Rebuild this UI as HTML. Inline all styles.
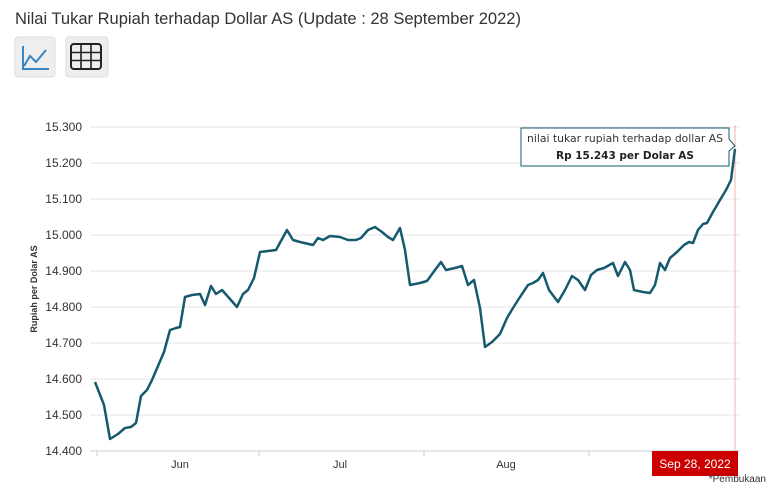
<!DOCTYPE html>
<html><head><meta charset="utf-8"><style>
body{margin:0;background:#fff;width:768px;height:494px;overflow:hidden;font-family:"Liberation Sans",sans-serif}
</style></head><body>
<svg width="768" height="494" xmlns="http://www.w3.org/2000/svg" font-family="Liberation Sans, sans-serif">
<text x="15" y="24" font-size="16.5" fill="#333" textLength="506" lengthAdjust="spacingAndGlyphs">Nilai Tukar Rupiah terhadap Dollar AS (Update : 28 September 2022)</text>
<rect x="15" y="37" width="40" height="40" rx="3" fill="#eee" stroke="#ddd"/>
<path d="M23 46 V69 H49 M24 66 L30 56 L36 62 L46 50" fill="none" stroke="#3a86c4" stroke-width="2"/>
<rect x="66" y="37" width="42" height="40" rx="3" fill="#eee" stroke="#ddd"/>
<rect x="71" y="44" width="30" height="25" rx="3" fill="none" stroke="#222" stroke-width="2"/>
<path d="M71 52.5H101M71 60.5H101M81 44V69M91 44V69" stroke="#222" stroke-width="1.6"/>
<g stroke="#e6e6e6" stroke-width="1">
<line x1="90" x2="740" y1="127" y2="127"/><line x1="90" x2="740" y1="163" y2="163"/><line x1="90" x2="740" y1="199" y2="199"/><line x1="90" x2="740" y1="235" y2="235"/><line x1="90" x2="740" y1="271" y2="271"/><line x1="90" x2="740" y1="307" y2="307"/><line x1="90" x2="740" y1="343" y2="343"/><line x1="90" x2="740" y1="379" y2="379"/><line x1="90" x2="740" y1="415" y2="415"/>
</g>
<line x1="90" x2="740" y1="451" y2="451" stroke="#ccc"/>
<g stroke="#ccc"><line x1="97" x2="97" y1="451" y2="456"/><line x1="259" x2="259" y1="451" y2="456"/><line x1="424" x2="424" y1="451" y2="456"/><line x1="589" x2="589" y1="451" y2="456"/></g>
<g font-size="12" fill="#333" text-anchor="end">
<text x="82" y="131">15.300</text><text x="82" y="167">15.200</text><text x="82" y="203">15.100</text><text x="82" y="239">15.000</text><text x="82" y="275">14.900</text><text x="82" y="311">14.800</text><text x="82" y="347">14.700</text><text x="82" y="383">14.600</text><text x="82" y="419">14.500</text><text x="82" y="455">14.400</text>
</g>
<text transform="translate(37,289) rotate(-90)" font-size="9" font-weight="bold" fill="#333" text-anchor="middle">Rupiah per Dolar AS</text>
<g font-size="11" fill="#333" text-anchor="middle"><text x="180" y="468">Jun</text><text x="340" y="468">Jul</text><text x="506" y="468">Aug</text></g>
<line x1="735" x2="735" y1="125" y2="451" stroke="#f3b0b0"/>
<polyline fill="none" stroke="#165a6e" stroke-width="2.5" stroke-linejoin="round" points="95,382 104,405 110,439 118,434 125,428 131,427 136,423 141,396 147,390 152,380 158,366 164,352 170,330 176,328 180,327 185,297 192,295 200,294 205,305 211,286 216,294 222,290 230,299 237,307 243,294 248,290 254,278 260,252 276,250 287,230 293,240 300,242 313,245 318,238 323,240 330,236 340,237 348,240 356,240 361,238 368,230 375,227 382,232 388,237 393,240 400,228 405,250 410,285 420,283 427,281 435,270 441,262 446,270 455,268 462,266 468,285 474,280 480,308 485,347 492,342 500,334 507,318 513,308 520,297 528,285 533,283 538,280 543,273 549,290 558,302 565,290 572,276 578,280 585,290 591,275 597,270 604,268 613,263 618,276 625,262 630,270 634,290 643,292 650,293 655,285 660,263 665,270 670,258 677,252 684,245 689,242 693,243 698,230 703,224 707,223 713,212 720,200 726,190 731,180 735,149"/>
<path d="M521 128 H729 V139 L735 146 L729 151 V166 H521 Z" fill="#fff" stroke="#165a6e" stroke-width="1"/>
<text x="625" y="142" font-size="11" fill="#333" text-anchor="middle" font-family="DejaVu Sans, sans-serif" textLength="196" lengthAdjust="spacingAndGlyphs">nilai tukar rupiah terhadap dollar AS</text>
<text x="625" y="159" font-size="11" font-weight="bold" fill="#222" text-anchor="middle" font-family="DejaVu Sans, sans-serif" textLength="138" lengthAdjust="spacingAndGlyphs">Rp 15.243 per Dolar AS</text>
<rect x="652" y="451" width="86" height="25" fill="#cc0000"/>
<text x="695" y="468" font-size="12" fill="#fff" text-anchor="middle">Sep 28, 2022</text>
<text x="766" y="482" font-size="10" fill="#333" text-anchor="end">*Pembukaan</text>
</svg>
</body></html>
